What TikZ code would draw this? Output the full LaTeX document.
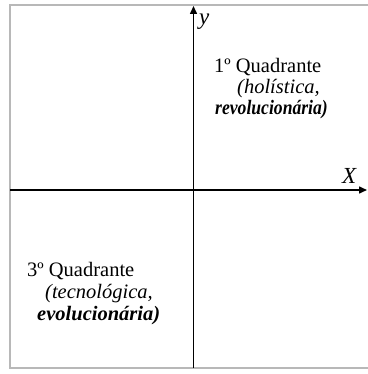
\documentclass[tikz,border=0pt]{standalone}
\usepackage{fontspec}
\setmainfont{Liberation Serif}
\usepackage{tikz}
\usetikzlibrary{arrows.meta}

\tikzset{
  axis/.style={line width=1.5pt,-{Triangle[length=8pt,width=7pt]}},
  frame/.style={line width=2pt,draw=black!28},
  quad/.style={anchor=base west,inner sep=0pt,font=\fontsize{20.5}{21}\selectfont},
  axlabel/.style={inner sep=0pt,font=\fontsize{23}{24}\selectfont\itshape}
}

\begin{document}
\begin{tikzpicture}[x=1pt,y=-1pt]
\useasboundingbox (0,0) rectangle (367,374);
% frame
\draw[frame] (370,5) -- (10,5) -- (10,368) -- (370,368);
% axes
\coordinate (xstart) at (10,190);
\coordinate (xend) at (367,190);
\coordinate (ystart) at (193.5,368);
\coordinate (yend) at (193.5,6);
\draw[axis] (xstart) -- (xend);
\draw[axis] (ystart) -- (yend);
\node[axlabel,anchor=base west] (ylab) at (199,25) {y};
\node[axlabel,anchor=base west] (xlab) at (342,183) {X};
% first quadrant
\node[quad] (q1a) at (214,73) {1º Quadrante};
\node[quad] (q1b) at (237,94) {\itshape (holística,};
\node[quad,xscale=0.86,transform shape] (q1c) at (215,115) {\bfseries\itshape revolucionária)};
% third quadrant
\node[quad] (q3a) at (27,276) {3º Quadrante};
\node[quad] (q3b) at (45,298) {\itshape (tecnológica,};
\node[quad] (q3c) at (37,320) {\bfseries\itshape evolucionária)};
\end{tikzpicture}
\end{document}
